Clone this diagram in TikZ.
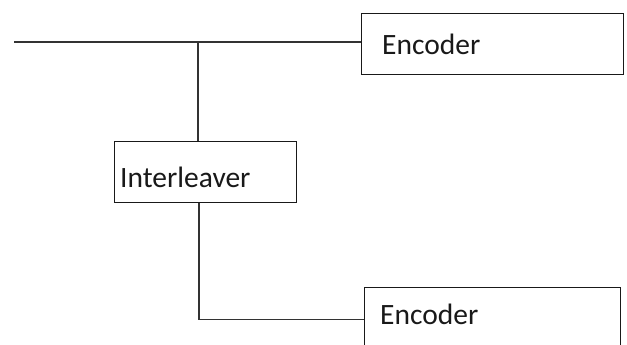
\documentclass[tikz,border=0pt]{standalone}
\usepackage{fontspec}
\setmainfont{Carlito}
\begin{document}
\begin{tikzpicture}[x=1pt,y=-1pt,
  wire/.style={line width=1.3pt,draw=black!80},
  blockbox/.style={draw=black!90,line width=1.3pt,rectangle,inner sep=0pt,anchor=north west},
  blocktext/.style={anchor=base west,inner sep=0pt,text=black!90,font=\fontsize{29.5}{34}\selectfont}]
  \useasboundingbox (0,0) rectangle (627,345);
  \clip (0,0) rectangle (627,345);
  % blocks
  \node[blockbox,minimum width=262pt,minimum height=61pt] (enc1) at (361,13) {};
  \node[blockbox,minimum width=182pt,minimum height=61pt] (il) at (114,141) {};
  \node[blockbox,minimum width=256pt,minimum height=64pt] (enc2) at (364,287) {};
  % labels
  \node[blocktext] (enc1t) at (382,55) {Encoder};
  \node[blocktext] (ilt) at (120,187) {Interleaver};
  \node[blocktext] (enc2t) at (380,324) {Encoder};
  % input line and branch point
  \coordinate (in) at (14,42);
  \coordinate (tap) at (198,42);
  \draw[wire] (in) -- (in -| enc1.west);
  \draw[wire] (tap) -- (tap |- il.north);
  \draw[wire] ([xshift=1pt]tap |- il.south) |- (enc2.west);
\end{tikzpicture}
\end{document}
